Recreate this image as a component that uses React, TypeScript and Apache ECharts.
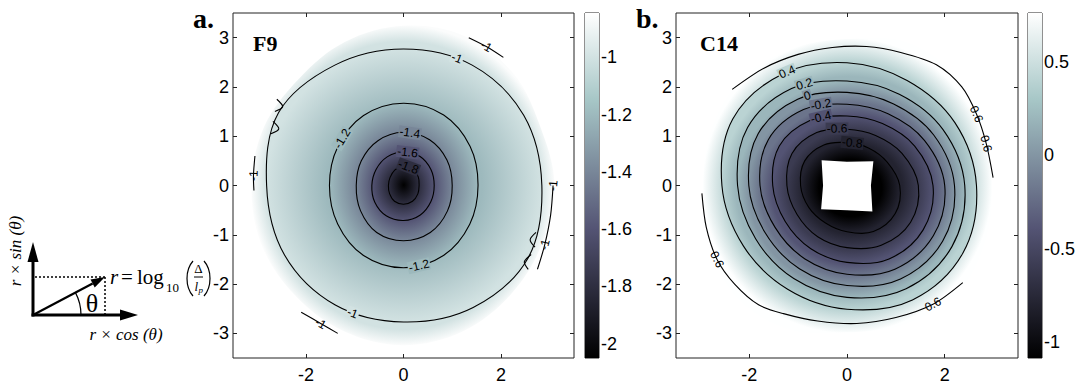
import React, { useEffect, useRef } from "react";
import * as echarts from "echarts";

// ---------------- data ----------------
const ANG12 = [0, 30, 60, 90, 120, 150, 180, 210, 240, 270, 300, 330];
const ANG16 = [0, 22.5, 45, 67.5, 90, 112.5, 135, 157.5, 180, 202.5, 225, 247.5, 270, 292.5, 315, 337.5];

const X_TICKS = [-2, 0, 2];
const Y_TICKS = [-3, -2, -1, 0, 1, 2, 3];
const AXIS_MIN = -3.5;
const AXIS_MAX = 3.5;

// Panel a : F9
const A_TAG = "a.";
const A_TITLE = "F9";
const A_COLOR_RANGE = [-2.05, -0.845];
const A_COLOR_TICKS = [-2, -1.8, -1.6, -1.4, -1.2, -1];
const A_CENTER_VALUE = -2.05;
const A_EDGE_VALUE = -0.86;
const A_BOUNDARY = [3.1, 3.05, 3.2, 3.28, 3.24, 3.15, 3.05, 3.1, 3.12, 3.15, 3.15, 3.2, 3.24, 3.2, 3.12, 3.08];
const A_LEVELS = [-1, -1.2, -1.4, -1.6, -1.8];
const A_R_M10 = [2.84, 2.85, 2.82, 2.77, 2.82, 2.96, 2.81, 2.82, 2.8, 2.77, 2.86, 2.95];
const A_R_M12 = [1.53, 1.58, 1.65, 1.67, 1.64, 1.56, 1.52, 1.56, 1.64, 1.67, 1.64, 1.57];
const A_R_M14 = [1.0, 1.03, 1.07, 1.08, 1.05, 1.0, 0.97, 1.02, 1.1, 1.12, 1.1, 1.04];
const A_R_M16 = [0.63, 0.65, 0.68, 0.68, 0.67, 0.65, 0.65, 0.68, 0.71, 0.71, 0.69, 0.65];
const A_R_M18 = [0.32, 0.35, 0.38, 0.4, 0.36, 0.32, 0.31, 0.33, 0.37, 0.38, 0.37, 0.34];
const A_FRAGMENTS = [
  [[1.34, 3.0], [1.7, 2.82], [2.05, 2.6]],
  [[-2.1, -2.57], [-1.7, -2.8], [-1.35, -3.0]],
  [[-3.05, 0.6], [-3.08, 0.2], [-3.07, -0.1]],
  [[3.07, 0.0], [3.02, -0.6], [2.9, -1.2], [2.75, -1.7]],
  [[-2.6, 1.75], [-2.48, 1.6], [-2.64, 1.5]],
  [[-2.68, 1.3], [-2.56, 1.15], [-2.72, 1.05]],
  [[2.72, -0.95], [2.6, -1.1], [2.7, -1.25]],
  [[2.62, -1.4], [2.48, -1.55], [2.56, -1.7]],
];
const A_CONTOUR_LABELS = [
  { level: -1.2, angle: 143 },
  { level: -1.2, angle: 281 },
  { level: -1.4, angle: 83 },
  { level: -1.6, angle: 83 },
  { level: -1.8, angle: 75 },
  { level: -1, angle: 67 },
  { level: -1, angle: 248 },
];
const A_FRAGMENT_LABELS = [
  { frag: 0, at: 1, text: "-1" },
  { frag: 1, at: 1, text: "-1" },
  { frag: 2, at: 1, text: "-1" },
  { frag: 3, at: 0, text: "-1" },
  { frag: 3, at: 2, text: "-1" },
];

// Panel b : C14
const B_TAG = "b.";
const B_TITLE = "C14";
const B_COLOR_RANGE = [-1.086, 0.763];
const B_COLOR_TICKS = [-1, -0.5, 0, 0.5];
const B_CENTER_VALUE = -1.086;
const B_EDGE_VALUE = 0.76;
const B_BOUNDARY = [2.97, 3.05, 3.15, 3.15, 2.97, 3.0, 3.05, 3.0, 2.95, 3.05, 3.2, 3.15, 2.98, 3.05, 3.15, 3.05];
const B_LEVELS = [0.4, 0.2, 0, -0.2, -0.4, -0.6, -0.8];
const B_R_P04 = [2.65, 2.55, 2.46, 2.49, 2.62, 2.7, 2.56, 2.45, 2.43, 2.51, 2.68, 2.74];
const B_R_P02 = [2.41, 2.27, 2.14, 2.12, 2.27, 2.35, 2.24, 2.16, 2.18, 2.27, 2.42, 2.48];
const B_R_P00 = [2.2, 2.05, 1.91, 1.89, 2.02, 2.1, 2.01, 1.93, 1.95, 2.03, 2.19, 2.26];
const B_R_M02 = [2.0, 1.83, 1.68, 1.65, 1.78, 1.86, 1.78, 1.7, 1.72, 1.8, 1.96, 2.04];
const B_R_M04 = [1.76, 1.6, 1.45, 1.41, 1.52, 1.6, 1.52, 1.46, 1.48, 1.56, 1.72, 1.8];
const B_R_M06 = [1.46, 1.3, 1.17, 1.14, 1.24, 1.3, 1.23, 1.18, 1.2, 1.26, 1.4, 1.5];
const B_R_M08 = [1.08, 0.95, 0.88, 0.87, 0.95, 1.0, 0.95, 0.9, 0.88, 0.94, 1.08, 1.14];
const B_HOLE = [[-0.52, 0.51], [0, 0.48], [0.54, 0.49], [0.49, 0], [0.52, -0.53], [0, -0.5], [-0.53, -0.48], [-0.49, 0]];
const B_FRAGMENTS = [
  [[-2.35, 1.95], [-1.7, 2.38], [-1.0, 2.66], [-0.3, 2.8], [0.4, 2.82], [1.1, 2.7], [1.83, 2.45], [2.35, 2.0], [2.65, 1.45], [2.85, 0.85], [2.99, 0.16]],
  [[2.37, -1.97], [1.76, -2.41], [1.0, -2.68], [0.2, -2.8], [-0.6, -2.75], [-1.3, -2.6], [-1.81, -2.42], [-2.3, -2.0], [-2.66, -1.5], [-2.88, -0.85], [-2.97, -0.16]],
];
const B_CONTOUR_LABELS = [
  { level: 0.4, angle: 118 },
  { level: 0.2, angle: 113 },
  { level: 0, angle: 114 },
  { level: -0.2, angle: 108 },
  { level: -0.4, angle: 111 },
  { level: -0.6, angle: 100 },
  { level: -0.8, angle: 83 },
];
const B_FRAGMENT_LABELS = [
  { frag: 0, at: 8, text: "0.6" },
  { frag: 0, at: 9, text: "0.6" },
  { frag: 1, at: 1, text: "0.6" },
  { frag: 1, at: 8, text: "0.6" },
];

// ---------------- helpers ----------------
const BONE: [number, number[]][] = [
  [0, [0, 0, 0]],
  [0.375, [84, 84, 116]],
  [0.75, [167, 199, 199]],
  [1, [255, 255, 255]],
];
function bone(t: number): string {
  const u = Math.max(0, Math.min(1, t));
  for (let i = 0; i < BONE.length - 1; i++) {
    const [t0, c0] = BONE[i];
    const [t1, c1] = BONE[i + 1];
    if (u <= t1) {
      const f = (u - t0) / (t1 - t0);
      const c = c0.map((v, k) => Math.round(v + (c1[k] - v) * f));
      return `rgb(${c[0]},${c[1]},${c[2]})`;
    }
  }
  return "rgb(255,255,255)";
}

const mean = (a: number[]) => a.reduce((s, x) => s + x, 0) / a.length;

function rAt(angles: number[], radii: number[], phi: number): number {
  const p = ((phi % 360) + 360) % 360;
  const n = angles.length;
  for (let i = 0; i < n; i++) {
    const a0 = angles[i];
    const a1 = i + 1 < n ? angles[i + 1] : 360;
    if (p >= a0 && p <= a1) {
      const f = (p - a0) / (a1 - a0);
      return radii[i] + (radii[(i + 1) % n] - radii[i]) * f;
    }
  }
  return radii[0];
}

function uprightAngle(dx: number, dy: number): number {
  let a = Math.atan2(-dy, dx);
  if (a > Math.PI / 2) a -= Math.PI;
  if (a < -Math.PI / 2) a += Math.PI;
  return a;
}

interface PanelSpec {
  range: number[];
  boundary: number[];
  edgeValue: number;
  levels: number[];
  radii: number[][];
  centerValue: number;
  hole?: number[][];
  fragments: number[][][];
  contourLabels: { level: number; angle: number }[];
  fragmentLabels: { frag: number; at: number; text: string }[];
}

const LABEL_FONT = '12px "Liberation Sans", Arial, sans-serif';

function buildPanel(api: any, spec: PanelSpec) {
  const [vmin, vmax] = spec.range;
  const col = (v: number) => bone((v - vmin) / (vmax - vmin));
  const pt = (r: number, deg: number) => {
    const t = (deg * Math.PI) / 180;
    return api.coord([r * Math.cos(t), r * Math.sin(t)]);
  };
  const pts = (angles: number[], radii: number[]) => angles.map((a, i) => pt(radii[i], a));
  const grad = (inner: string, k: number, outer: string) =>
    new echarts.graphic.RadialGradient(0.5, 0.5, 0.5, [
      { offset: 0, color: inner },
      { offset: Math.max(0, Math.min(0.999, k)), color: inner },
      { offset: 1, color: outer },
    ]);
  const children: any[] = [];
  const n = spec.levels.length;
  children.push({
    type: "polygon",
    shape: { points: pts(ANG16, spec.boundary), smooth: 0.35 },
    style: { fill: grad(col(spec.levels[0]), mean(spec.radii[0]) / mean(spec.boundary), col(spec.edgeValue)) },
  });
  const holeR = spec.hole ? mean(spec.hole.map((p) => Math.hypot(p[0], p[1]))) : 0;
  for (let i = 0; i < n; i++) {
    const innerR = i + 1 < n ? mean(spec.radii[i + 1]) : holeR;
    const innerV = i + 1 < n ? spec.levels[i + 1] : spec.centerValue;
    children.push({
      type: "polygon",
      shape: { points: pts(ANG12, spec.radii[i]), smooth: 0.35 },
      style: { fill: grad(col(innerV), innerR / mean(spec.radii[i]), col(spec.levels[i])) },
    });
  }
  if (spec.hole) {
    children.push({
      type: "polygon",
      shape: { points: spec.hole.map((p) => api.coord(p)) },
      style: { fill: "#ffffff" },
    });
  }
  for (let i = 0; i < n; i++) {
    children.push({
      type: "polygon",
      shape: { points: pts(ANG12, spec.radii[i]), smooth: 0.35 },
      style: { fill: "none", stroke: "#000", lineWidth: 1.1 },
    });
  }
  spec.fragments.forEach((f) => {
    children.push({
      type: "polyline",
      shape: { points: f.map((p) => api.coord(p)), smooth: 0.3 },
      style: { fill: "none", stroke: "#000", lineWidth: 1.1 },
    });
  });
  spec.contourLabels.forEach((lab) => {
    const idx = spec.levels.indexOf(lab.level);
    if (idx < 0) return;
    const r = rAt(ANG12, spec.radii[idx], lab.angle);
    const p = pt(r, lab.angle);
    const p1 = pt(rAt(ANG12, spec.radii[idx], lab.angle - 4), lab.angle - 4);
    const p2 = pt(rAt(ANG12, spec.radii[idx], lab.angle + 4), lab.angle + 4);
    children.push({
      type: "text",
      x: p[0],
      y: p[1],
      rotation: uprightAngle(p2[0] - p1[0], p2[1] - p1[1]),
      style: {
        text: String(lab.level),
        font: LABEL_FONT,
        fill: "#000",
        align: "center",
        verticalAlign: "middle",
        backgroundColor: col(lab.level),
        padding: [0, 1],
      },
    });
  });
  spec.fragmentLabels.forEach((lab) => {
    const f = spec.fragments[lab.frag];
    const p = api.coord(f[lab.at]);
    const a = api.coord(f[Math.max(0, lab.at - 1)]);
    const b = api.coord(f[Math.min(f.length - 1, lab.at + 1)]);
    children.push({
      type: "text",
      x: p[0],
      y: p[1],
      rotation: uprightAngle(b[0] - a[0], b[1] - a[1]),
      style: {
        text: lab.text,
        font: LABEL_FONT,
        fill: "#000",
        align: "center",
        verticalAlign: "middle",
      },
    });
  });
  return { type: "group", children };
}

const A_SPEC: PanelSpec = {
  range: A_COLOR_RANGE,
  boundary: A_BOUNDARY,
  edgeValue: A_EDGE_VALUE,
  levels: A_LEVELS,
  radii: [A_R_M10, A_R_M12, A_R_M14, A_R_M16, A_R_M18],
  centerValue: A_CENTER_VALUE,
  fragments: A_FRAGMENTS,
  contourLabels: A_CONTOUR_LABELS,
  fragmentLabels: A_FRAGMENT_LABELS,
};
const B_SPEC: PanelSpec = {
  range: B_COLOR_RANGE,
  boundary: B_BOUNDARY,
  edgeValue: B_EDGE_VALUE,
  levels: B_LEVELS,
  radii: [B_R_P04, B_R_P02, B_R_P00, B_R_M02, B_R_M04, B_R_M06, B_R_M08],
  centerValue: B_CENTER_VALUE,
  hole: B_HOLE,
  fragments: B_FRAGMENTS,
  contourLabels: B_CONTOUR_LABELS,
  fragmentLabels: B_FRAGMENT_LABELS,
};

const SANS = '"Liberation Sans", Arial, Helvetica, sans-serif';
const SERIF = '"Liberation Serif", "Times New Roman", serif';
const AXIS_COLOR = "#222";

function mainX(gridIndex: number, position: string, labels: boolean) {
  return {
    type: "value",
    gridIndex,
    position,
    min: AXIS_MIN,
    max: AXIS_MAX,
    axisLine: { show: false, onZero: false },
    splitLine: { show: false },
    axisTick: { show: true, inside: true, length: 4, customValues: X_TICKS, lineStyle: { color: AXIS_COLOR } },
    axisLabel: { show: labels, customValues: X_TICKS, margin: 8, fontFamily: SANS, fontSize: 18, color: "#000" },
  };
}
function mainY(gridIndex: number, position: string, labels: boolean) {
  return {
    type: "value",
    gridIndex,
    position,
    min: AXIS_MIN,
    max: AXIS_MAX,
    axisLine: { show: false, onZero: false },
    splitLine: { show: false },
    axisTick: { show: true, inside: true, length: 4, customValues: Y_TICKS, lineStyle: { color: AXIS_COLOR } },
    axisLabel: { show: labels, customValues: Y_TICKS, margin: 4, fontFamily: SANS, fontSize: 18, color: "#000" },
  };
}
function cbX(gridIndex: number) {
  return { type: "value", gridIndex, min: 0, max: 1, show: false, axisLine: { onZero: false } };
}
function cbY(gridIndex: number, position: string, labels: boolean, range: number[], ticks: number[]) {
  return {
    type: "value",
    gridIndex,
    position,
    min: range[0],
    max: range[1],
    axisLine: { show: false, onZero: false },
    splitLine: { show: false },
    axisTick: { show: true, inside: true, length: 3, customValues: ticks, lineStyle: { color: AXIS_COLOR } },
    axisLabel: { show: labels, customValues: ticks, margin: 2, fontFamily: SANS, fontSize: 18, color: "#000" },
  };
}

function colorbarSeries(xi: number, yi: number, range: number[]) {
  return {
    type: "custom",
    xAxisIndex: xi,
    yAxisIndex: yi,
    silent: true,
    z: 1,
    data: [[0, range[0]]],
    renderItem: (_p: any, api: any) => {
      const a = api.coord([0, range[1]]);
      const b = api.coord([1, range[0]]);
      return {
        type: "rect",
        shape: { x: a[0], y: a[1], width: b[0] - a[0], height: b[1] - a[1] },
        style: {
          fill: new echarts.graphic.LinearGradient(0, 0, 0, 1, [
            { offset: 0, color: bone(1) },
            { offset: 0.25, color: bone(0.75) },
            { offset: 0.625, color: bone(0.375) },
            { offset: 1, color: bone(0) },
          ]),
        },
      };
    },
  };
}

function diagram() {
  const u = [72 / 81.4, -38 / 81.4];
  const nrm = [38 / 81.4, 72 / 81.4];
  const tip = [105, 277];
  const base = [tip[0] - 14 * u[0], tip[1] - 14 * u[1]];
  const black = { stroke: "#000" };
  return [
    { type: "line", shape: { x1: 33, y1: 316.5, x2: 33, y2: 258 }, style: { ...black, lineWidth: 3 } },
    { type: "polygon", shape: { points: [[33, 242], [27.5, 262], [38.5, 262]] }, style: { fill: "#000" } },
    { type: "line", shape: { x1: 31.5, y1: 315, x2: 124, y2: 315 }, style: { ...black, lineWidth: 3 } },
    { type: "polygon", shape: { points: [[138, 315], [120, 309.5], [120, 320.5]] }, style: { fill: "#000" } },
    { type: "line", shape: { x1: 35, y1: 277, x2: 105, y2: 277 }, style: { ...black, lineWidth: 1.5, lineDash: [2, 2] } },
    { type: "line", shape: { x1: 105, y1: 277, x2: 105, y2: 314 }, style: { ...black, lineWidth: 1.5, lineDash: [2, 2] } },
    { type: "line", shape: { x1: 33, y1: 315, x2: base[0], y2: base[1] }, style: { ...black, lineWidth: 2.2 } },
    {
      type: "polygon",
      shape: {
        points: [tip, [base[0] + 4.5 * nrm[0], base[1] + 4.5 * nrm[1]], [base[0] - 4.5 * nrm[0], base[1] - 4.5 * nrm[1]]],
      },
      style: { fill: "#000" },
    },
    {
      type: "arc",
      shape: { cx: 33, cy: 315, r: 48, startAngle: -0.485, endAngle: 0, clockwise: true },
      style: { ...black, lineWidth: 1.2, fill: "none" },
    },
    { type: "text", x: 92, y: 303, style: { text: "θ", font: `26px ${SERIF}`, fill: "#000", align: "center", verticalAlign: "middle" } },
    {
      type: "text",
      x: 15,
      y: 251,
      rotation: Math.PI / 2,
      style: { text: "r × sin (θ)", font: `italic 17px ${SERIF}`, fill: "#000", align: "center", verticalAlign: "middle" },
    },
    { type: "text", x: 126, y: 334, style: { text: "r × cos (θ)", font: `italic 17px ${SERIF}`, fill: "#000", align: "center", verticalAlign: "middle" } },
    // formula r = log10(Δ / l_p)
    { type: "text", x: 110, y: 277, style: { text: "r", font: `italic 21px ${SERIF}`, fill: "#000", align: "left", verticalAlign: "middle" } },
    { type: "text", x: 127, y: 277, style: { text: "=", font: `21px ${SERIF}`, fill: "#000", align: "center", verticalAlign: "middle" } },
    { type: "text", x: 137, y: 277, style: { text: "log", font: `21px ${SERIF}`, fill: "#000", align: "left", verticalAlign: "middle" } },
    { type: "text", x: 166, y: 287, style: { text: "10", font: `13px ${SERIF}`, fill: "#000", align: "left", verticalAlign: "middle" } },
    { type: "bezierCurve", shape: { x1: 193, y1: 261, x2: 193, y2: 296, cpx1: 185, cpy1: 270, cpx2: 185, cpy2: 287 }, style: { ...black, lineWidth: 1.2, fill: "none" } },
    { type: "text", x: 198.5, y: 268, style: { text: "Δ", font: `13px ${SERIF}`, fill: "#000", align: "center", verticalAlign: "middle" } },
    { type: "line", shape: { x1: 194, y1: 277, x2: 203, y2: 277 }, style: { ...black, lineWidth: 1 } },
    { type: "text", x: 194.5, y: 286, style: { text: "l", font: `italic 13px ${SERIF}`, fill: "#000", align: "left", verticalAlign: "middle" } },
    { type: "text", x: 198.5, y: 290, style: { text: "p", font: `italic 9px ${SERIF}`, fill: "#000", align: "left", verticalAlign: "middle" } },
    { type: "bezierCurve", shape: { x1: 204, y1: 261, x2: 204, y2: 296, cpx1: 212, cpy1: 270, cpx2: 212, cpy2: 287 }, style: { ...black, lineWidth: 1.2, fill: "none" } },
    // panel tags
    { type: "text", x: 193, y: 18, style: { text: A_TAG, font: `bold 28px ${SERIF}`, fill: "#000", align: "left", verticalAlign: "middle" } },
    { type: "text", x: 253, y: 43, style: { text: A_TITLE, font: `bold 22px ${SERIF}`, fill: "#000", align: "left", verticalAlign: "middle" } },
    { type: "text", x: 636, y: 18, style: { text: B_TAG, font: `bold 28px ${SERIF}`, fill: "#000", align: "left", verticalAlign: "middle" } },
    { type: "text", x: 700, y: 43, style: { text: B_TITLE, font: `bold 22px ${SERIF}`, fill: "#000", align: "left", verticalAlign: "middle" } },
  ];
}

export default function App() {
  const ref = useRef<HTMLDivElement>(null);
  useEffect(() => {
    if (!ref.current) return;
    const chart = echarts.init(ref.current, undefined, { renderer: "svg" });
    const gridStyle = { show: true, borderColor: AXIS_COLOR, borderWidth: 1, backgroundColor: "transparent" };
    chart.setOption({
      animation: false,
      backgroundColor: "#fff",
      grid: [
        { left: 233, top: 13, width: 341, height: 345, ...gridStyle },
        { left: 585, top: 13, width: 14, height: 345, ...gridStyle },
        { left: 676, top: 13, width: 342, height: 345, ...gridStyle },
        { left: 1028, top: 13, width: 14, height: 345, ...gridStyle },
      ],
      xAxis: [mainX(0, "bottom", true), mainX(0, "top", false), cbX(1), mainX(2, "bottom", true), mainX(2, "top", false), cbX(3)],
      yAxis: [
        mainY(0, "left", true),
        mainY(0, "right", false),
        cbY(1, "left", false, A_COLOR_RANGE, A_COLOR_TICKS),
        cbY(1, "right", true, A_COLOR_RANGE, A_COLOR_TICKS),
        mainY(2, "left", true),
        mainY(2, "right", false),
        cbY(3, "left", false, B_COLOR_RANGE, B_COLOR_TICKS),
        cbY(3, "right", true, B_COLOR_RANGE, B_COLOR_TICKS),
      ],
      series: [
        {
          type: "custom",
          xAxisIndex: 0,
          yAxisIndex: 0,
          silent: true,
          data: [[0, 0]],
          renderItem: (_p: any, api: any) => buildPanel(api, A_SPEC),
        },
        colorbarSeries(2, 3, A_COLOR_RANGE),
        {
          type: "custom",
          xAxisIndex: 3,
          yAxisIndex: 4,
          silent: true,
          data: [[0, 0]],
          renderItem: (_p: any, api: any) => buildPanel(api, B_SPEC),
        },
        colorbarSeries(5, 7, B_COLOR_RANGE),
      ],
      graphic: diagram(),
    });
    return () => chart.dispose();
  }, []);
  return <div ref={ref} style={{ position: "fixed", left: 0, top: 0, width: 1079, height: 387 }} />;
}
